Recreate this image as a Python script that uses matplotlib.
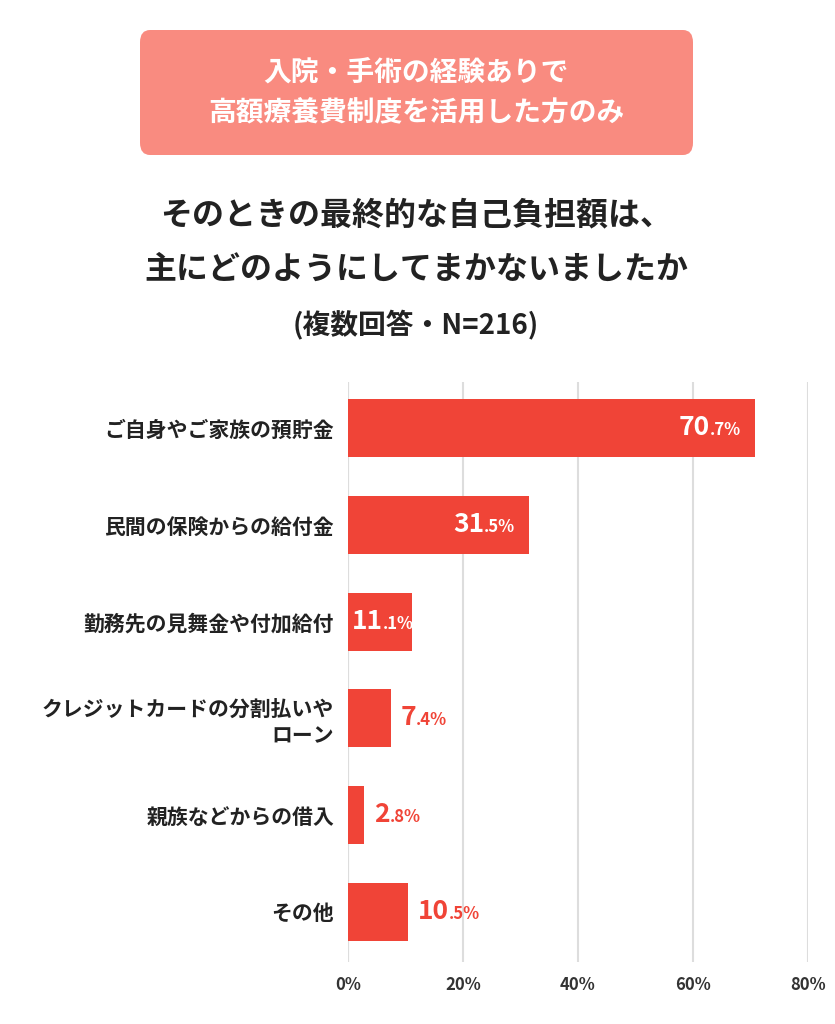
import matplotlib
matplotlib.use("Agg")
import matplotlib.pyplot as plt
from matplotlib.patches import FancyBboxPatch

plt.rcParams['font.family'] = ['Noto Sans CJK JP', 'DejaVu Sans']

categories = ["ご自身やご家族の預貯金", "民間の保険からの給付金", "勤務先の見舞金や付加給付",
              "クレジットカードの分割払いや\nローン", "親族などからの借入", "その他"]
values = [70.7, 31.5, 11.1, 7.4, 2.8, 10.5]
inside = [True, True, True, False, False, False]
xticks = [0, 20, 40, 60, 80]

W, H = 835, 1024
fig = plt.figure(figsize=(W/100, H/100), dpi=100)
fig.patch.set_facecolor("white")

box = FancyBboxPatch((140/W, 1-155/H), 553/W, 125/H, boxstyle="round,pad=0,rounding_size=0.012",
                     transform=fig.transFigure, facecolor="#F98B80", edgecolor="none")
fig.patches.append(box)
fig.text(416/W, 1-73/H, "入院・手術の経験ありで", ha="center", va="center", color="white", fontsize=20, fontweight="bold")
fig.text(416/W, 1-113/H, "高額療養費制度を活用した方のみ", ha="center", va="center", color="white", fontsize=20, fontweight="bold")
fig.text(416/W, 1-215/H, "そのときの最終的な自己負担額は、", ha="center", va="center", color="#222", fontsize=23, fontweight="bold")
fig.text(416/W, 1-270/H, "主にどのようにしてまかないましたか", ha="center", va="center", color="#222", fontsize=23, fontweight="bold")
fig.text(416/W, 1-325/H, "(複数回答・N=216)", ha="center", va="center", color="#222", fontsize=20, fontweight="bold")

ax = fig.add_axes([348/W, 1-962/H, 460/W, 580/H])
y = list(range(len(categories)))
ax.barh(y, values, height=0.6, color="#F04437", zorder=3)
ax.set_xlim(0, 80)
ax.set_ylim(len(categories)-0.5+0.02, -0.5+0.02)
ax.set_xticks(xticks)
ax.set_xticklabels([f"{t}%" for t in xticks], fontsize=12, fontweight="bold", color="#333")
ax.set_yticks(y)
ax.set_yticklabels(categories, fontsize=15, fontweight="bold", color="#222", linespacing=1.3)
ax.tick_params(length=0, pad=10)
ax.xaxis.grid(True, color="#DDDDDD", lw=1.5, zorder=0)
for s in ax.spines.values():
    s.set_visible(False)
ax.axvline(0, color="#DDDDDD", lw=1.5, zorder=0)

fig.canvas.draw()
r = fig.canvas.get_renderer()
for i, (v, ins) in enumerate(zip(values, inside)):
    s = f"{v:.1f}"
    big, small = s.split(".")
    small = "." + small + "%"
    col = "white" if ins else "#F04437"
    if ins and v > 20:
        t2 = ax.annotate(small, (v, i), xytext=(-10, -5), textcoords="offset points", ha="right", va="baseline",
                         fontsize=12, fontweight="bold", color=col, zorder=4)
        w = t2.get_window_extent(r).width * 72 / 100
        ax.annotate(big, (v, i), xytext=(-10 - w, -5), textcoords="offset points", ha="right", va="baseline",
                    fontsize=19, fontweight="bold", color=col, zorder=4)
    else:
        x0, off = (0, 3) if ins else (v, 7)
        t1 = ax.annotate(big, (x0, i), xytext=(off, -5), textcoords="offset points", ha="left", va="baseline",
                         fontsize=19, fontweight="bold", color=col, zorder=4)
        w = t1.get_window_extent(r).width * 72 / 100
        ax.annotate(small, (x0, i), xytext=(off + w, -5), textcoords="offset points", ha="left", va="baseline",
                    fontsize=12, fontweight="bold", color=col, zorder=4)

fig.savefig("out.png", dpi=100)
